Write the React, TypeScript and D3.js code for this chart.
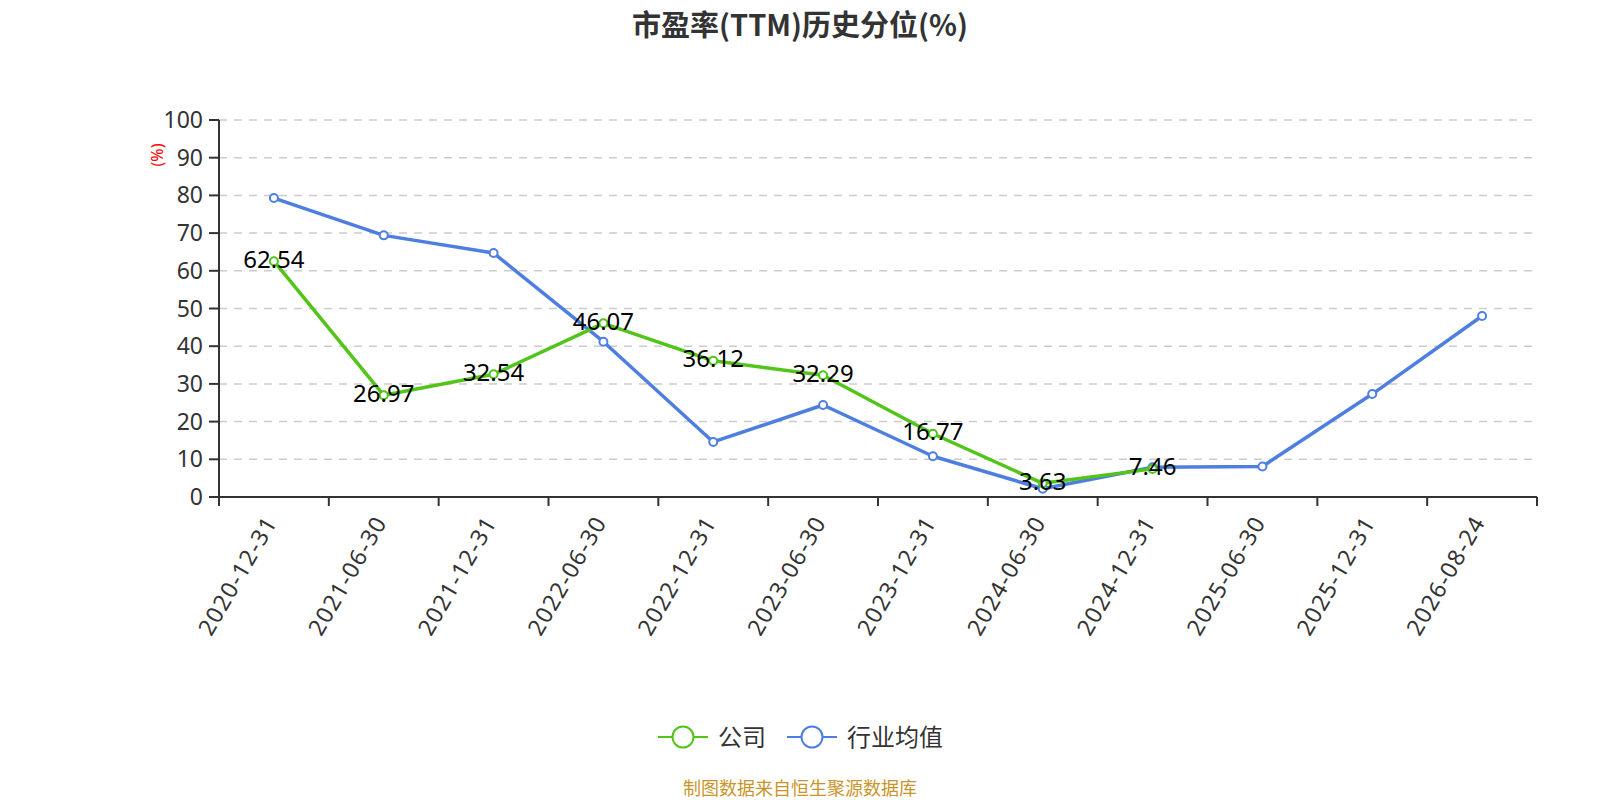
import { useEffect, useRef } from 'react';
import * as d3 from 'd3';

const categories = [
  '2020-12-31', '2021-06-30', '2021-12-31', '2022-06-30', '2022-12-31', '2023-06-30',
  '2023-12-31', '2024-06-30', '2024-12-31', '2025-06-30', '2025-12-31', '2026-08-24',
];
const companyValues: (number | null)[] = [62.54, 26.97, 32.54, 46.07, 36.12, 32.29, 16.77, 3.63, 7.46, null, null, null];
const industryValues = [79.3, 69.4, 64.7, 41.2, 14.6, 24.4, 10.8, 2.2, 7.9, 8.1, 27.3, 48.0];
const yTicks = [0, 10, 20, 30, 40, 50, 60, 70, 80, 90, 100];

const GREEN = '#52c41a';
const BLUE = '#4e7fe0';
const FONT = '"Noto Sans", "Noto Sans CJK SC", sans-serif';
const CJK = '"Noto Sans CJK SC", "Noto Sans", sans-serif';

export default function App() {
  const svgRef = useRef<SVGSVGElement>(null);

  useEffect(() => {
    document.body.style.margin = '0';
    if (!svgRef.current) return;
    const svg = d3.select(svgRef.current);
    svg.selectAll('*').remove();

    const left = 219, right = 1537, top = 120, bottom = 497;
    const cx = 800;

    const x = d3.scaleBand<string>().domain(categories).range([left, right]);
    const y = d3.scaleLinear().domain([0, 100]).range([bottom, top]);
    const px = (c: string) => (x(c) ?? 0) + x.bandwidth() / 2;

    // Title
    svg.append('text')
      .attr('x', cx).attr('y', 36)
      .attr('text-anchor', 'middle')
      .attr('font-family', CJK).attr('font-size', 29).attr('font-weight', 'bold')
      .attr('fill', '#333')
      .text('市盈率(TTM)历史分位(%)');

    // Grid
    svg.append('g').selectAll('line')
      .data(yTicks.filter(t => t > 0))
      .join('line')
      .attr('x1', left).attr('x2', right)
      .attr('y1', d => y(d)).attr('y2', d => y(d))
      .attr('stroke', '#ccc').attr('stroke-width', 1.5).attr('stroke-dasharray', '8,7');

    // Y axis
    const ya = svg.append('g');
    ya.append('line').attr('x1', left).attr('x2', left).attr('y1', top).attr('y2', bottom)
      .attr('stroke', '#333').attr('stroke-width', 2);
    ya.selectAll('line.t').data(yTicks).join('line').attr('class', 't')
      .attr('x1', left - 10).attr('x2', left).attr('y1', d => y(d)).attr('y2', d => y(d))
      .attr('stroke', '#333').attr('stroke-width', 2);
    ya.selectAll('text').data(yTicks).join('text')
      .attr('x', left - 16).attr('y', d => y(d)).attr('dy', '0.35em')
      .attr('text-anchor', 'end').attr('font-family', FONT).attr('font-size', 23)
      .attr('fill', '#333').text(d => d);

    svg.append('text')
      .attr('transform', `translate(157,155) rotate(-90)`)
      .attr('text-anchor', 'middle').attr('dy', '0.35em')
      .attr('font-family', FONT).attr('font-size', 16)
      .attr('fill', 'red').text('(%)');

    // X axis
    const xa = svg.append('g');
    xa.append('line').attr('x1', left).attr('x2', right).attr('y1', bottom).attr('y2', bottom)
      .attr('stroke', '#333').attr('stroke-width', 2);
    const xTickPos = categories.map(c => x(c) ?? 0).concat([right]);
    xa.selectAll('line.t').data(xTickPos).join('line').attr('class', 't')
      .attr('x1', d => d).attr('x2', d => d).attr('y1', bottom).attr('y2', bottom + 9)
      .attr('stroke', '#333').attr('stroke-width', 2);
    xa.selectAll('text').data(categories).join('text')
      .attr('transform', d => `translate(${px(d) - 3},${bottom + 21}) rotate(-60)`)
      .attr('text-anchor', 'end').attr('dy', '0.35em')
      .attr('font-family', FONT).attr('font-size', 23).attr('letter-spacing', 1.3)
      .attr('fill', '#333')
      .text(d => d);

    // Lines
    const series = [
      { name: '行业均值', color: BLUE, values: industryValues as (number | null)[] },
      { name: '公司', color: GREEN, values: companyValues },
    ];
    const line = d3.line<{ c: string; v: number | null }>()
      .defined(d => d.v != null)
      .x(d => px(d.c)).y(d => y(d.v as number));

    for (const s of series) {
      const pts = categories.map((c, i) => ({ c, v: s.values[i] }));
      const g = svg.append('g');
      g.append('path').datum(pts).attr('d', line)
        .attr('fill', 'none').attr('stroke', s.color).attr('stroke-width', 3.5)
        .attr('stroke-linejoin', 'round');
      g.selectAll('circle').data(pts.filter(p => p.v != null)).join('circle')
        .attr('cx', d => px(d.c)).attr('cy', d => y(d.v as number)).attr('r', 4)
        .attr('fill', '#fff').attr('stroke', s.color).attr('stroke-width', 2);
    }

    // Company labels drawn last
    svg.append('g').selectAll('text')
      .data(categories.map((c, i) => ({ c, v: companyValues[i] })).filter(p => p.v != null))
      .join('text')
      .attr('x', d => px(d.c)).attr('y', d => y(d.v as number) - 2).attr('dy', '0.35em')
      .attr('text-anchor', 'middle').attr('font-family', FONT).attr('font-size', 24)
      .attr('fill', '#000').text(d => (d.v as number).toFixed(2));

    // Legend
    const legend = [
      { name: '公司', color: GREEN, x: 658 },
      { name: '行业均值', color: BLUE, x: 787 },
    ];
    const ly = 737;
    const lg = svg.append('g');
    for (const l of legend) {
      lg.append('line').attr('x1', l.x).attr('x2', l.x + 50).attr('y1', ly).attr('y2', ly)
        .attr('stroke', l.color).attr('stroke-width', 2);
      lg.append('circle').attr('cx', l.x + 25).attr('cy', ly).attr('r', 10.5)
        .attr('fill', '#fff').attr('stroke', l.color).attr('stroke-width', 2);
      lg.append('text').attr('x', l.x + 60).attr('y', ly).attr('dy', '0.36em')
        .attr('font-family', CJK).attr('font-size', 24).attr('fill', '#333').text(l.name);
    }

    svg.append('text')
      .attr('x', cx).attr('y', 795).attr('text-anchor', 'middle')
      .attr('font-family', CJK).attr('font-size', 18).attr('fill', '#c9952b')
      .text('制图数据来自恒生聚源数据库');
  }, []);

  return <svg ref={svgRef} width={1600} height={800} style={{ display: 'block' }} />;
}
